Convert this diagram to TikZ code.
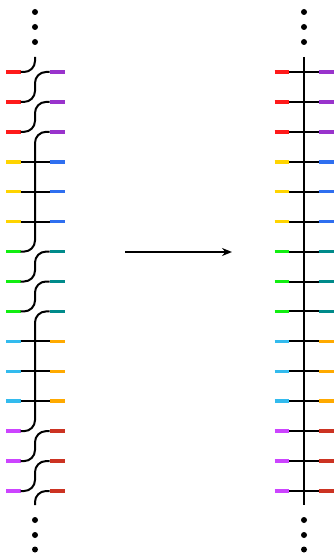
\documentclass[tikz,border=0pt]{standalone}
\usetikzlibrary{arrows.meta}
\definecolor{cRed}{HTML}{FF1A1A}
\definecolor{cPur}{HTML}{9933CC}
\definecolor{cYel}{HTML}{FFD400}
\definecolor{cBlu}{HTML}{2F6FF0}
\definecolor{cGrn}{HTML}{11EE11}
\definecolor{cTea}{HTML}{008B8B}
\definecolor{cCya}{HTML}{33BBEE}
\definecolor{cOra}{HTML}{FFAA00}
\definecolor{cMag}{HTML}{CC44FF}
\definecolor{cBri}{HTML}{CC3322}
\begin{document}
\begin{tikzpicture}[x=1pt,y=-1pt,
  stub/.style={line width=3.5pt},
  wire/.style={line width=2pt, black},
  curvewire/.style={wire, rounded corners=11pt},
  dot/.style={circle, fill=black, inner sep=0pt, minimum size=6pt},
  arr/.style={line width=1.6pt, -{Stealth[length=10pt,width=8pt]}}]
\useasboundingbox (0,0) rectangle (333,553);
\foreach \k/\cl/\cr in {1/cRed/cPur,2/cRed/cPur,3/cRed/cPur,
  4/cYel/cBlu,5/cYel/cBlu,6/cYel/cBlu,
  7/cGrn/cTea,8/cGrn/cTea,9/cGrn/cTea,
  10/cCya/cOra,11/cCya/cOra,12/cCya/cOra,
  13/cMag/cBri,14/cMag/cBri,15/cMag/cBri}{
  \pgfmathsetmacro\yy{72+(\k-1)*29.93}
  \coordinate (La\k) at (6,\yy);
  \coordinate (Lb\k) at (20.5,\yy);
  \coordinate (C\k) at (35,\yy);
  \coordinate (Rb\k) at (49.5,\yy);
  \coordinate (Ra\k) at (65,\yy);
  \coordinate (PLa\k) at (274.5,\yy);
  \coordinate (PLb\k) at (289,\yy);
  \coordinate (PC\k) at (304,\yy);
  \coordinate (PRb\k) at (318.5,\yy);
  \coordinate (PRa\k) at (334,\yy);
  \draw[stub, \cl] (La\k) -- (Lb\k);
  \draw[stub, \cr] (Rb\k) -- (Ra\k);
  \draw[stub, \cl] (PLa\k) -- (PLb\k);
  \draw[stub, \cr] (PRb\k) -- (PRa\k);
  \draw[wire] (PLb\k) -- (PRb\k);
}
% left diagram
\coordinate (top) at (35,57);
\coordinate (bot) at (35,505);
\draw[curvewire] (top) -- (C1) -- (Lb1);
\draw[curvewire] (Rb1) -- (C1) -- (C2) -- (Lb2);
\draw[curvewire] (Rb2) -- (C2) -- (C3) -- (Lb3);
\draw[curvewire] (Rb3) -- (C3) -- (C7) -- (Lb7);
\foreach \k in {4,5,6,10,11,12} \draw[wire] (Lb\k) -- (Rb\k);
\draw[curvewire] (Rb7) -- (C7) -- (C8) -- (Lb8);
\draw[curvewire] (Rb8) -- (C8) -- (C9) -- (Lb9);
\draw[curvewire] (Rb9) -- (C9) -- (C13) -- (Lb13);
\draw[curvewire] (Rb13) -- (C13) -- (C14) -- (Lb14);
\draw[curvewire] (Rb14) -- (C14) -- (C15) -- (Lb15);
\draw[curvewire] (Rb15) -- (C15) -- (bot);
% right diagram
\coordinate (ptop) at (304,57);
\coordinate (pbot) at (304,505);
\draw[wire] (ptop) -- (pbot);
% dots
\foreach \x/\n in {35/l,304/r}{
  \node[dot] (\n t1) at (\x,12) {};
  \node[dot] (\n t2) at (\x,27) {};
  \node[dot] (\n t3) at (\x,42) {};
  \node[dot] (\n b1) at (\x,520) {};
  \node[dot] (\n b2) at (\x,535) {};
  \node[dot] (\n b3) at (\x,549.5) {};
}
% arrow
\coordinate (a1) at (125,252);
\coordinate (a2) at (232,252);
\draw[arr] (a1) -- (a2);
\end{tikzpicture}
\end{document}
